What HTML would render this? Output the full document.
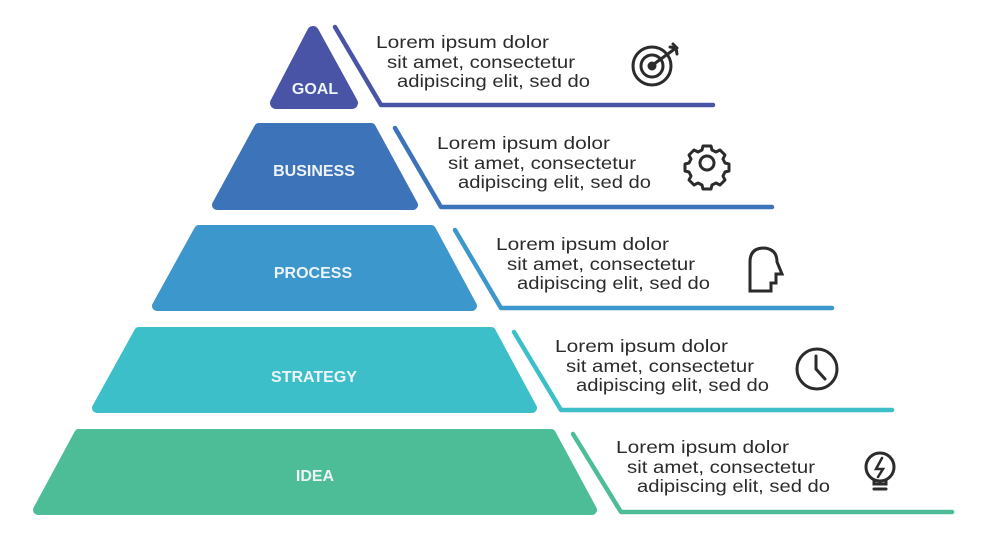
<!DOCTYPE html>
<html><head><meta charset="utf-8"><style>
html,body{margin:0;padding:0;background:#fff;}
svg{display:block;}
text{font-family:"Liberation Sans",sans-serif;}
.t{font-size:17.5px;fill:#2b2b2b;}
.l{font-size:16px;font-weight:bold;fill:#eef3f8;text-anchor:middle;}
</style></head><body>
<svg width="988" height="555" viewBox="0 0 988 555" xmlns="http://www.w3.org/2000/svg">
<g stroke-linejoin="round" stroke-width="10">
<polygon points="313,32 352,103 276,103" fill="#4a54a6" stroke="#4a54a6" stroke-width="12"/>
<polygon points="259,128 371,128 413,205 217,205" fill="#3d74b9" stroke="#3d74b9"/>
<polygon points="199,230 431,230 472,306 157,306" fill="#3b97cc" stroke="#3b97cc"/>
<polygon points="139,332 491,332 532,408 97,408" fill="#3dbfca" stroke="#3dbfca"/>
<polygon points="79,434 551,434 592,510 38,510" fill="#4dbd98" stroke="#4dbd98"/>
</g>
<g fill="none" stroke-width="4.5" stroke-linecap="round" stroke-linejoin="round">
<polyline points="335,27 381,105 713,105" stroke="#4a54a6"/>
<polyline points="395,128 441,207 772,207" stroke="#3d74b9"/>
<polyline points="455,230 501,308 832,308" stroke="#3b97cc"/>
<polyline points="514,332 561,410 892,410" stroke="#3dbfca"/>
<polyline points="573,434 621,512 952,512" stroke="#4dbd98"/>
</g>
<text class="l" x="315" y="94">GOAL</text>
<text class="l" x="314" y="176">BUSINESS</text>
<text class="l" x="313" y="278">PROCESS</text>
<text class="l" x="314" y="382">STRATEGY</text>
<text class="l" x="315" y="481">IDEA</text>
<g class="t">
<text x="376" y="48" textLength="173" lengthAdjust="spacingAndGlyphs">Lorem ipsum dolor</text><text x="387" y="68" textLength="188" lengthAdjust="spacingAndGlyphs">sit amet, consectetur</text><text x="397" y="87" textLength="193" lengthAdjust="spacingAndGlyphs">adipiscing elit, sed do</text>
<text x="437" y="149" textLength="173" lengthAdjust="spacingAndGlyphs">Lorem ipsum dolor</text><text x="448" y="169" textLength="188" lengthAdjust="spacingAndGlyphs">sit amet, consectetur</text><text x="458" y="188" textLength="193" lengthAdjust="spacingAndGlyphs">adipiscing elit, sed do</text>
<text x="496" y="250" textLength="173" lengthAdjust="spacingAndGlyphs">Lorem ipsum dolor</text><text x="507" y="270" textLength="188" lengthAdjust="spacingAndGlyphs">sit amet, consectetur</text><text x="517" y="289" textLength="193" lengthAdjust="spacingAndGlyphs">adipiscing elit, sed do</text>
<text x="555" y="352" textLength="173" lengthAdjust="spacingAndGlyphs">Lorem ipsum dolor</text><text x="566" y="372" textLength="188" lengthAdjust="spacingAndGlyphs">sit amet, consectetur</text><text x="576" y="391" textLength="193" lengthAdjust="spacingAndGlyphs">adipiscing elit, sed do</text>
<text x="616" y="453" textLength="173" lengthAdjust="spacingAndGlyphs">Lorem ipsum dolor</text><text x="627" y="473" textLength="188" lengthAdjust="spacingAndGlyphs">sit amet, consectetur</text><text x="637" y="492" textLength="193" lengthAdjust="spacingAndGlyphs">adipiscing elit, sed do</text>
</g>
<g fill="none" stroke="#2b2b2b" stroke-width="3" stroke-linecap="round">
<circle cx="652" cy="66" r="19"/><circle cx="652" cy="66" r="11"/><circle cx="652" cy="66" r="3" fill="#2b2b2b"/>
<line x1="654" y1="64" x2="676" y2="48"/><path d="M670 47 L676 48 L677 54 M673 44 L677 48"/>
<circle cx="707" cy="163" r="7"/>
<path d="M703 146 h8 l1 4 l4 2 l4 -2 l5 5 l-2 4 l2 4 l4 1 v7 l-4 1 l-2 4 l2 4 l-5 5 l-4 -2 l-4 2 l-1 4 h-8 l-1 -4 l-4 -2 l-4 2 l-5 -5 l2 -4 l-2 -4 l-4 -1 v-7 l4 -1 l2 -4 l-2 -4 l5 -5 l4 2 l4 -2 z" stroke-linejoin="round"/>
<path d="M750 291 V262 Q750 248 764 248 Q777 249 777 262 L782 274 H776 V283 H771 V291 Z" stroke-linejoin="miter"/>
<circle cx="817" cy="369" r="20"/><path d="M816 356 V369 L825 379"/>
<circle cx="880" cy="467" r="14"/><path d="M874 480 V484 H886 V480 M874 489 H886"/>
<path d="M882 458 L876 469 H883 L878 477" stroke-width="2.5"/>
</g>
</svg>
</body></html>
